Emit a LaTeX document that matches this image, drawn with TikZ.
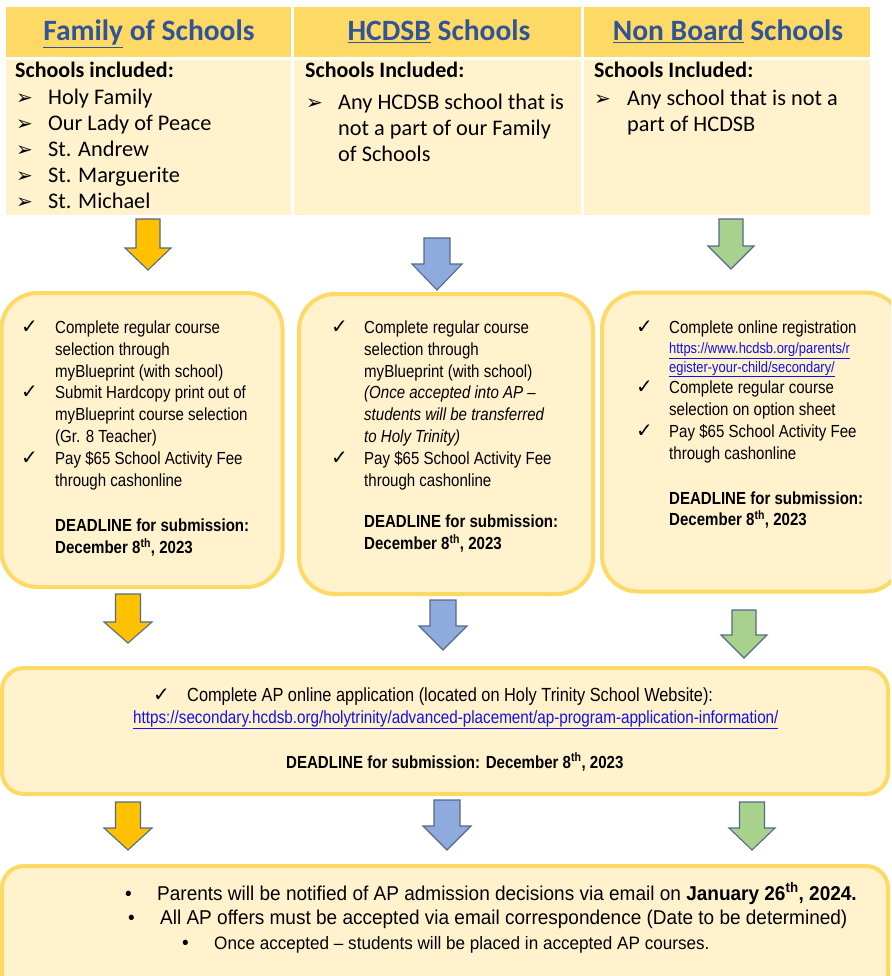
\documentclass[tikz,border=0pt]{standalone}
\usepackage{fontspec}
\setmainfont{Liberation Sans}
\newfontfamily\calfont{Carlito}
\newfontfamily\arn[FakeStretch=0.86]{Liberation Sans}
\newfontfamily\arw[FakeStretch=0.95]{Liberation Sans}
\newfontfamily\symf{DejaVu Sans}
\definecolor{hdrgold}{HTML}{FFD966}
\definecolor{cream}{HTML}{FFF2CC}
\definecolor{bordgold}{HTML}{FFD966}
\definecolor{ttlblue}{HTML}{2F5597}
\definecolor{agold}{HTML}{FFC000}
\definecolor{ablue}{HTML}{8FAADC}
\definecolor{agreen}{HTML}{A9D18E}
\definecolor{aline}{HTML}{56698A}
\definecolor{lnk}{HTML}{1010F0}
\newcommand\chk{{\symf\fontsize{20}{20}\selectfont ✓}}
\newcommand\arwb{{\symf\fontsize{20}{20}\selectfont ➢}}
\newcommand\lnktxt[1]{{\color{lnk}\underline{#1}}}
% block arrow: cx, top, head-start y, tip y, shaft half width, head half width, colour
\newcommand\blockarrow[7]{%
  \draw[arrowshape, fill=#7] (#1-#5,#2) -- (#1+#5,#2) -- (#1+#5,#3) -- (#1+#6,#3)
    -- (#1,#4) -- (#1-#6,#3) -- (#1-#5,#3) -- cycle;}
\begin{document}
\begin{tikzpicture}[x=1pt,y=-1pt,
  hdr/.style={fill=hdrgold, draw=none},
  cell/.style={fill=cream, draw=none},
  bigbox/.style={fill=cream, draw=bordgold, line width=4pt, rounded corners=36pt},
  widebox/.style={fill=cream, draw=bordgold, line width=4pt, rounded corners=22pt},
  arrowshape/.style={draw=aline, line width=1.1pt, line join=miter},
  ttl/.style={font=\calfont\bfseries\fontsize{29.5}{32}\selectfont, text=ttlblue, inner sep=0pt, anchor=base},
  inc/.style={font=\calfont\bfseries\fontsize{22}{26}\selectfont, inner sep=0pt, anchor=base west},
  lst/.style={font=\calfont\fontsize{22.3}{26}\selectfont, inner sep=0pt, anchor=base west},
  txt/.style={font=\arn\fontsize{17.5}{21.8}\selectfont, inner sep=0pt, anchor=north west},
  apl/.style={font=\arn\fontsize{19}{22}\selectfont, inner sep=0pt, anchor=base west},
  dec/.style={font=\arw\fontsize{20}{24}\selectfont, inner sep=0pt, anchor=base west},
]
\clip (0,0) rectangle (891,976);
\fill[white] (0,0) rectangle (891,976);

% header row
\fill[hdr] (6,7) rectangle (291,57);
\fill[hdr] (294,7) rectangle (581,57);
\fill[hdr] (584,7) rectangle (870,57);
\fill[cell] (6,60) rectangle (291,215);
\fill[cell] (294,60) rectangle (581,215);
\fill[cell] (584,60) rectangle (870,215);

\node[ttl] (t1) at (149,41) {\underline{Family} of Schools};
\node[ttl] (t2) at (439,41) {\underline{HCDSB} Schools};
\node[ttl] (t3) at (728,41) {\underline{Non Board} Schools};

\node[inc] (i1) at (15,78) {Schools included:};
\node[inc] (i2) at (305,78) {Schools Included:};
\node[inc] (i3) at (594,78) {Schools Included:};

\node[lst] (l1) at (16,105) {\begin{tabular}[t]{@{}p{32pt}@{}l@{}}
\arwb & Holy Family\\
\arwb & Our Lady of Peace\\
\arwb & St. Andrew\\
\arwb & St. Marguerite\\
\arwb & St. Michael
\end{tabular}};
\node[lst] (l2) at (306,110) {\begin{tabular}[t]{@{}p{32pt}@{}l@{}}
\arwb & Any HCDSB school that is\\
 & not a part of our Family\\
 & of Schools
\end{tabular}};
\node[lst] (l3) at (594,106) {\begin{tabular}[t]{@{}p{33pt}@{}l@{}}
\arwb & Any school that is not a\\
 & part of HCDSB
\end{tabular}};

% first arrows
\blockarrow{148}{219}{248}{270}{12}{23}{agold}
\blockarrow{437}{238}{264}{290}{13}{25}{ablue}
\blockarrow{731}{219}{246}{269}{12}{23}{agreen}

% step boxes
\node[bigbox, minimum width=281pt, minimum height=294pt] (b1) at (142,440) {};
\node[bigbox, minimum width=294pt, minimum height=300pt] (b2) at (446,444) {};
\node[bigbox, minimum width=300pt, minimum height=299pt] (b3) at (752,442) {};

\node[txt] (x1) at (21,318) {\begin{tabular}{@{}p{34pt}@{}l@{}}
\chk & Complete regular course\\
 & selection through\\
 & myBlueprint (with school)\\
\chk & Submit Hardcopy print out of\\
 & myBlueprint course selection\\
 & (Gr. 8 Teacher)\\
\chk & Pay \$65 School Activity Fee\\
 & through cashonline\\[2pt]
 & \\
 & \textbf{DEADLINE for submission:}\\
 & \textbf{December 8\textsuperscript{th}, 2023}
\end{tabular}};

\node[txt] (x2) at (331,318) {\begin{tabular}{@{}p{33pt}@{}l@{}}
\chk & Complete regular course\\
 & selection through\\
 & myBlueprint (with school)\\
 & \textit{(Once accepted into AP –}\\
 & \textit{students will be transferred}\\
 & \textit{to Holy Trinity)}\\
\chk & Pay \$65 School Activity Fee\\
 & through cashonline\\[20pt]
 & \textbf{DEADLINE for submission:}\\
 & \textbf{December 8\textsuperscript{th}, 2023}
\end{tabular}};

\node[txt] (x3) at (636,318) {\begin{tabular}{@{}p{33pt}@{}l@{}}
\chk & Complete online registration\\[-2pt]
 & {\fontsize{15}{18}\selectfont\lnktxt{https://www.hcdsb.org/parents/r}}\\[-3pt]
 & {\fontsize{15}{18}\selectfont\lnktxt{egister-your-child/secondary/}}\\
\chk & Complete regular course\\
 & selection on option sheet\\
\chk & Pay \$65 School Activity Fee\\
 & through cashonline\\[23pt]
 & \textbf{DEADLINE for submission:}\\
 & \textbf{December 8\textsuperscript{th}, 2023}
\end{tabular}};

% second arrows
\blockarrow{128}{594}{622}{643}{12.5}{24}{agold}
\blockarrow{443}{600}{626}{650}{13}{24}{ablue}
\blockarrow{744}{610}{635}{658}{12}{23}{agreen}

% AP application box
\node[widebox, minimum width=886pt, minimum height=126pt] (b4) at (445,731) {};
\node[apl] (a0) at (153,701) {\chk};
\node[apl] (a1) at (187,701) {Complete AP online application (located on Holy Trinity School Website):};
\node[apl] (a2) at (133,723) {\fontsize{17.7}{20}\selectfont\lnktxt{https://secondary.hcdsb.org/holytrinity/advanced-placement/ap-program-application-information/}};
\node[apl] (a3) at (286,768) {\fontsize{17.5}{20}\selectfont\textbf{DEADLINE for submission: December 8\textsuperscript{th}, 2023}};

% third arrows
\blockarrow{128}{802}{828}{850}{12.5}{24}{agold}
\blockarrow{447}{800}{826}{850}{13}{24}{ablue}
\blockarrow{752}{802}{828}{850}{12.5}{23}{agreen}

% decision box
\node[widebox, minimum width=886pt, minimum height=130pt] (b5) at (445,931) {};
\node[dec] (e1) at (125,900) {\textbullet};
\node[dec] (d1) at (157,900) {Parents will be notified of AP admission decisions via email on \textbf{January 26\textsuperscript{th}, 2024.}};
\node[dec] (e2) at (128,924) {\textbullet};
\node[dec] (d2) at (160,924) {All AP offers must be accepted via email correspondence (Date to be determined)};
\node[dec] (e3) at (182,949) {\textbullet};
\node[dec] (d3) at (214,949) {\fontsize{18}{22}\selectfont Once accepted – students will be placed in accepted AP courses.};
\end{tikzpicture}
\end{document}
